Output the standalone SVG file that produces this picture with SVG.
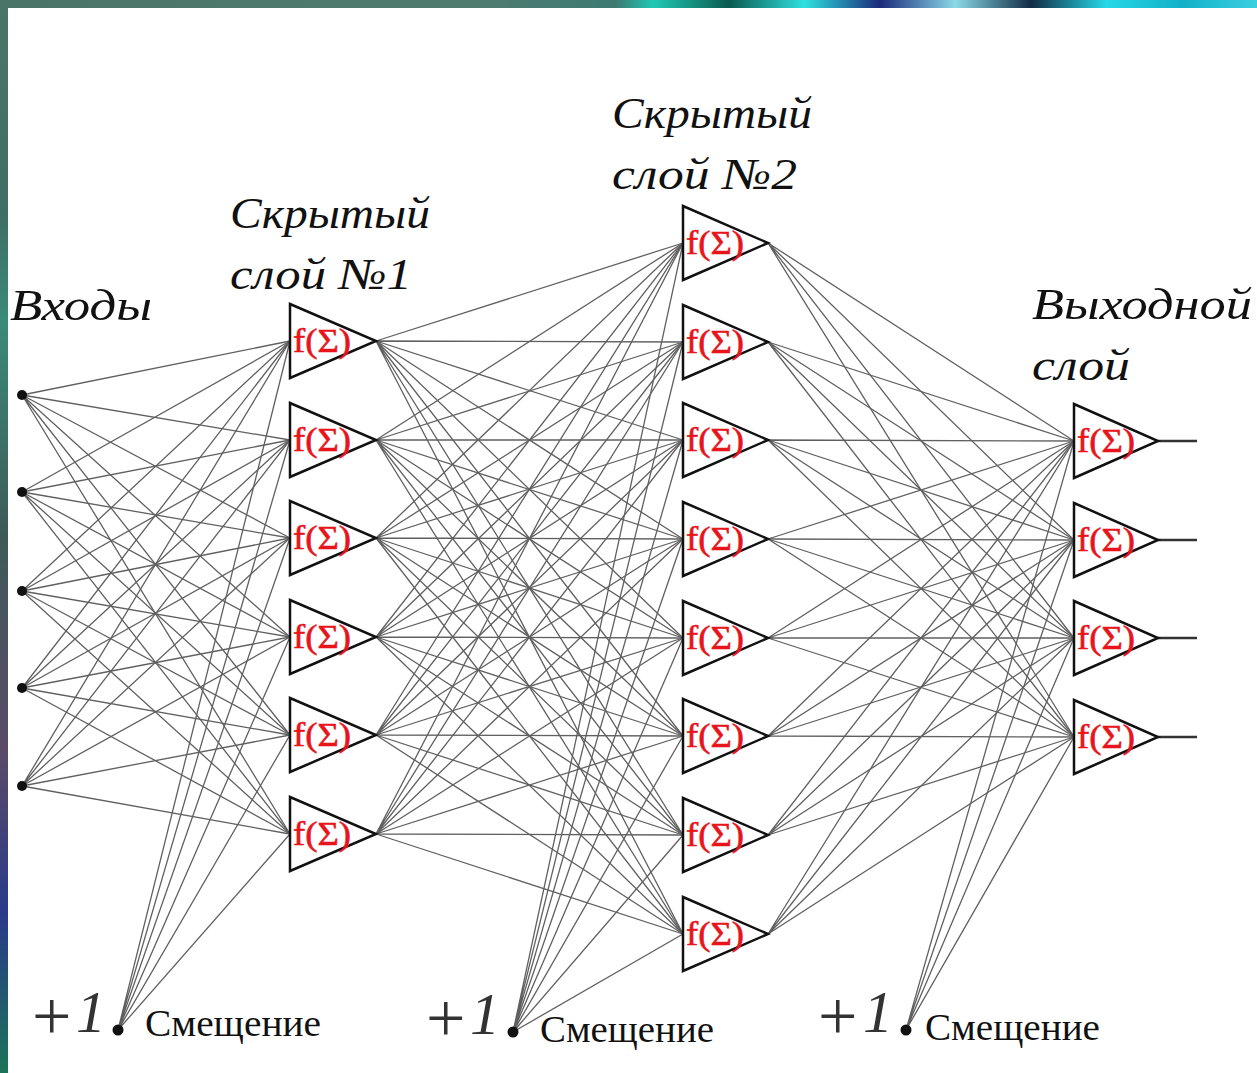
<svg xmlns="http://www.w3.org/2000/svg" width="1257" height="1073" viewBox="0 0 1257 1073">
<defs>
<linearGradient id="topg" x1="0" y1="0" x2="1" y2="0">
<stop offset="0" stop-color="#4b7468"/>
<stop offset="0.38" stop-color="#4f7b6f"/>
<stop offset="0.49" stop-color="#3d7a72"/>
<stop offset="0.52" stop-color="#1fc9b4"/>
<stop offset="0.58" stop-color="#0b5a50"/>
<stop offset="0.64" stop-color="#2fe0e0"/>
<stop offset="0.70" stop-color="#1b2a7a"/>
<stop offset="0.76" stop-color="#8ad8e8"/>
<stop offset="0.82" stop-color="#112c44"/>
<stop offset="0.88" stop-color="#25d8e6"/>
<stop offset="0.94" stop-color="#12b0c8"/>
<stop offset="1" stop-color="#3ad0e0"/>
</linearGradient>
<linearGradient id="leftg" x1="0" y1="0" x2="0" y2="1">
<stop offset="0" stop-color="#4a7468"/>
<stop offset="0.2" stop-color="#3f6e66"/>
<stop offset="0.3" stop-color="#3a8a7a"/>
<stop offset="0.5" stop-color="#3e5a58"/>
<stop offset="0.7" stop-color="#5a4a68"/>
<stop offset="0.85" stop-color="#2a3a8a"/>
<stop offset="1" stop-color="#1a7458"/>
</linearGradient>
<style>
.lbl{font-family:"Liberation Serif","Times New Roman",serif;font-style:italic;font-size:44px;fill:#111}
.bias{font-family:"Liberation Serif","Times New Roman",serif;font-size:38px;fill:#111}
.plus{font-family:"Liberation Serif","Times New Roman",serif;font-size:70px;fill:#333}
.one{font-family:"Liberation Serif","Times New Roman",serif;font-style:italic;font-size:60px;fill:#333}
.tri{fill:#fff;stroke:#111;stroke-width:2.5;stroke-linejoin:miter}
.fs{font-family:"Liberation Serif","Times New Roman",serif;font-size:34px;fill:#e8141c;stroke:#e8141c;stroke-width:0.6}
.w{fill:none;stroke:#606060;stroke-width:1.3}
.out{stroke:#333;stroke-width:2.5}
.dot{fill:#111}
</style>
</defs>
<rect x="0" y="0" width="1257" height="1073" fill="#fff"/>
<rect x="0" y="0" width="1257" height="8" fill="url(#topg)"/>
<rect x="0" y="0" width="8" height="1073" fill="url(#leftg)"/>

<g id="connectors">
<path class="w" d="M22 395L290 341M22 395L290 440M22 395L290 538M22 395L290 637M22 395L290 735M22 395L290 834"/>
<path class="w" d="M22 492L290 341M22 492L290 440M22 492L290 538M22 492L290 637M22 492L290 735M22 492L290 834"/>
<path class="w" d="M22 591L290 341M22 591L290 440M22 591L290 538M22 591L290 637M22 591L290 735M22 591L290 834"/>
<path class="w" d="M22 688L290 341M22 688L290 440M22 688L290 538M22 688L290 637M22 688L290 735M22 688L290 834"/>
<path class="w" d="M22 786L290 341M22 786L290 440M22 786L290 538M22 786L290 637M22 786L290 735M22 786L290 834"/>
<path class="w" d="M118 1030L290 341M118 1030L290 440M118 1030L290 538M118 1030L290 637M118 1030L290 735M118 1030L290 834"/>
<path class="w" d="M376 341L683 243M376 341L683 342M376 341L683 440M376 341L683 539M376 341L683 638M376 341L683 736M376 341L683 835M376 341L683 934"/>
<path class="w" d="M376 440L683 243M376 440L683 342M376 440L683 440M376 440L683 539M376 440L683 638M376 440L683 736M376 440L683 835M376 440L683 934"/>
<path class="w" d="M376 538L683 243M376 538L683 342M376 538L683 440M376 538L683 539M376 538L683 638M376 538L683 736M376 538L683 835M376 538L683 934"/>
<path class="w" d="M376 637L683 243M376 637L683 342M376 637L683 440M376 637L683 539M376 637L683 638M376 637L683 736M376 637L683 835M376 637L683 934"/>
<path class="w" d="M376 735L683 243M376 735L683 342M376 735L683 440M376 735L683 539M376 735L683 638M376 735L683 736M376 735L683 835M376 735L683 934"/>
<path class="w" d="M376 834L683 243M376 834L683 342M376 834L683 440M376 834L683 539M376 834L683 638M376 834L683 736M376 834L683 835M376 834L683 934"/>
<path class="w" d="M513 1032L683 243M513 1032L683 342M513 1032L683 440M513 1032L683 539M513 1032L683 638M513 1032L683 736M513 1032L683 835M513 1032L683 934"/>
<path class="w" d="M768 243L1074 441M768 243L1074 540M768 243L1074 638M768 243L1074 737"/>
<path class="w" d="M768 342L1074 441M768 342L1074 540M768 342L1074 638M768 342L1074 737"/>
<path class="w" d="M768 440L1074 441M768 440L1074 540M768 440L1074 638M768 440L1074 737"/>
<path class="w" d="M768 539L1074 441M768 539L1074 540M768 539L1074 638M768 539L1074 737"/>
<path class="w" d="M768 638L1074 441M768 638L1074 540M768 638L1074 638M768 638L1074 737"/>
<path class="w" d="M768 736L1074 441M768 736L1074 540M768 736L1074 638M768 736L1074 737"/>
<path class="w" d="M768 835L1074 441M768 835L1074 540M768 835L1074 638M768 835L1074 737"/>
<path class="w" d="M768 934L1074 441M768 934L1074 540M768 934L1074 638M768 934L1074 737"/>
<path class="w" d="M906 1030L1074 441M906 1030L1074 540M906 1030L1074 638M906 1030L1074 737"/>
<path class="out" d="M1158 441H1197M1158 540H1197M1158 638H1197M1158 737H1197"/>
</g>

<g id="inputs">
<circle class="dot" cx="22" cy="395" r="5"/>
<circle class="dot" cx="22" cy="492" r="5"/>
<circle class="dot" cx="22" cy="591" r="5"/>
<circle class="dot" cx="22" cy="688" r="5"/>
<circle class="dot" cx="22" cy="786" r="5"/>
</g>

<g id="h1-1" transform="translate(290,341)"><polygon class="tri" points="0,-37 0,37 86,0"/><text class="fs" x="3" y="11" textLength="58" lengthAdjust="spacingAndGlyphs">f(Σ)</text></g>
<g id="h1-2" transform="translate(290,440)"><polygon class="tri" points="0,-37 0,37 86,0"/><text class="fs" x="3" y="11" textLength="58" lengthAdjust="spacingAndGlyphs">f(Σ)</text></g>
<g id="h1-3" transform="translate(290,538)"><polygon class="tri" points="0,-37 0,37 86,0"/><text class="fs" x="3" y="11" textLength="58" lengthAdjust="spacingAndGlyphs">f(Σ)</text></g>
<g id="h1-4" transform="translate(290,637)"><polygon class="tri" points="0,-37 0,37 86,0"/><text class="fs" x="3" y="11" textLength="58" lengthAdjust="spacingAndGlyphs">f(Σ)</text></g>
<g id="h1-5" transform="translate(290,735)"><polygon class="tri" points="0,-37 0,37 86,0"/><text class="fs" x="3" y="11" textLength="58" lengthAdjust="spacingAndGlyphs">f(Σ)</text></g>
<g id="h1-6" transform="translate(290,834)"><polygon class="tri" points="0,-37 0,37 86,0"/><text class="fs" x="3" y="11" textLength="58" lengthAdjust="spacingAndGlyphs">f(Σ)</text></g>

<g id="h2-1" transform="translate(683,243)"><polygon class="tri" points="0,-37 0,37 85,0"/><text class="fs" x="3" y="11" textLength="58" lengthAdjust="spacingAndGlyphs">f(Σ)</text></g>
<g id="h2-2" transform="translate(683,342)"><polygon class="tri" points="0,-37 0,37 85,0"/><text class="fs" x="3" y="11" textLength="58" lengthAdjust="spacingAndGlyphs">f(Σ)</text></g>
<g id="h2-3" transform="translate(683,440)"><polygon class="tri" points="0,-37 0,37 85,0"/><text class="fs" x="3" y="11" textLength="58" lengthAdjust="spacingAndGlyphs">f(Σ)</text></g>
<g id="h2-4" transform="translate(683,539)"><polygon class="tri" points="0,-37 0,37 85,0"/><text class="fs" x="3" y="11" textLength="58" lengthAdjust="spacingAndGlyphs">f(Σ)</text></g>
<g id="h2-5" transform="translate(683,638)"><polygon class="tri" points="0,-37 0,37 85,0"/><text class="fs" x="3" y="11" textLength="58" lengthAdjust="spacingAndGlyphs">f(Σ)</text></g>
<g id="h2-6" transform="translate(683,736)"><polygon class="tri" points="0,-37 0,37 85,0"/><text class="fs" x="3" y="11" textLength="58" lengthAdjust="spacingAndGlyphs">f(Σ)</text></g>
<g id="h2-7" transform="translate(683,835)"><polygon class="tri" points="0,-37 0,37 85,0"/><text class="fs" x="3" y="11" textLength="58" lengthAdjust="spacingAndGlyphs">f(Σ)</text></g>
<g id="h2-8" transform="translate(683,934)"><polygon class="tri" points="0,-37 0,37 85,0"/><text class="fs" x="3" y="11" textLength="58" lengthAdjust="spacingAndGlyphs">f(Σ)</text></g>

<g id="out-1" transform="translate(1074,441)"><polygon class="tri" points="0,-37 0,37 84,0"/><text class="fs" x="3" y="11" textLength="58" lengthAdjust="spacingAndGlyphs">f(Σ)</text></g>
<g id="out-2" transform="translate(1074,540)"><polygon class="tri" points="0,-37 0,37 84,0"/><text class="fs" x="3" y="11" textLength="58" lengthAdjust="spacingAndGlyphs">f(Σ)</text></g>
<g id="out-3" transform="translate(1074,638)"><polygon class="tri" points="0,-37 0,37 84,0"/><text class="fs" x="3" y="11" textLength="58" lengthAdjust="spacingAndGlyphs">f(Σ)</text></g>
<g id="out-4" transform="translate(1074,737)"><polygon class="tri" points="0,-37 0,37 84,0"/><text class="fs" x="3" y="11" textLength="58" lengthAdjust="spacingAndGlyphs">f(Σ)</text></g>

<g id="bias-1">
<text class="plus" x="32" y="1040">+</text><text class="one" x="76" y="1032">1</text>
<circle class="dot" cx="118" cy="1030" r="5.5"/>
<text class="bias" x="145" y="1036" textLength="176" lengthAdjust="spacingAndGlyphs">Смещение</text>
</g>
<g id="bias-2">
<text class="plus" x="426" y="1042">+</text><text class="one" x="470" y="1034">1</text>
<circle class="dot" cx="513" cy="1032" r="5.5"/>
<text class="bias" x="540" y="1042" textLength="174" lengthAdjust="spacingAndGlyphs">Смещение</text>
</g>
<g id="bias-3">
<text class="plus" x="818" y="1040">+</text><text class="one" x="863" y="1032">1</text>
<circle class="dot" cx="906" cy="1030" r="5.5"/>
<text class="bias" x="925" y="1040" textLength="175" lengthAdjust="spacingAndGlyphs">Смещение</text>
</g>

<g id="labels">
<text class="lbl" x="10" y="320" textLength="142" lengthAdjust="spacingAndGlyphs">Входы</text>
<text class="lbl" x="230" y="228" textLength="200" lengthAdjust="spacingAndGlyphs">Скрытый</text>
<text class="lbl" x="230" y="289" textLength="182" lengthAdjust="spacingAndGlyphs">слой №1</text>
<text class="lbl" x="612" y="128" textLength="200" lengthAdjust="spacingAndGlyphs">Скрытый</text>
<text class="lbl" x="612" y="189" textLength="185" lengthAdjust="spacingAndGlyphs">слой №2</text>
<text class="lbl" x="1032" y="319" textLength="220" lengthAdjust="spacingAndGlyphs">Выходной</text>
<text class="lbl" x="1032" y="380" textLength="98" lengthAdjust="spacingAndGlyphs">слой</text>
</g>
</svg>
